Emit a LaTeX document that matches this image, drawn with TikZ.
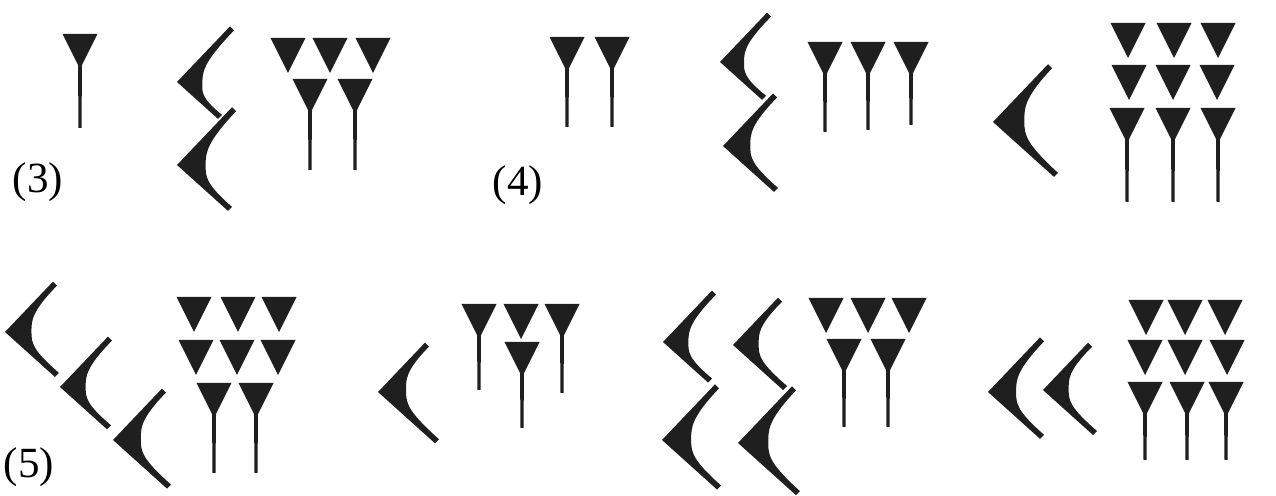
\documentclass[tikz,border=0pt]{standalone}
\usepackage{fontspec}
\setmainfont{Liberation Serif}
\tikzset{
  ink/.style={fill=black!88},
  lbl/.style={font=\fontsize{24.5}{29}\selectfont, inner sep=0pt},
  pics/head/.style={code={
    \fill[ink] (-17.5,0) -- (17.5,0) -- (0,35) -- cycle;
  }},
  pics/nail/.style={code={
    \fill[ink] (-17.5,0) -- (17.5,0) -- (0,35) -- cycle;
    \fill[ink] (-2,30) -- (2,30) -- (1.5,#1) -- (-1.5,#1) -- cycle;
  }},
  pics/hook/.style args={#1/#2}{code={
    \fill[ink] (#1,{-1.05*#1}) -- (0,0) -- (#2,{0.9*#2}) -- ({#2+4},{0.9*#2-4})
      .. controls ({0.55*#2},{0.36*#2}) and ({0.27*(#1+#2)},{0.22*#2}) .. ({0.27*(#1+#2)},0)
      .. controls ({0.27*(#1+#2)},{-0.24*#1}) and ({0.55*#1},{-0.42*#1}) .. ({#1+4},{-1.05*#1+4}) -- cycle;
  }}
}
\begin{document}
\begin{tikzpicture}[x=0.02cm,y=-0.02cm]
    \useasboundingbox (0,0) rectangle (1276,496);
    % (3)
    \pic at (80,34) {nail=94};
    \pic at (177,82) {hook=53/41};
    \pic at (177,165) {hook=55/51};
    \pic at (288,38) {head};
    \pic at (330,38) {head};
    \pic at (373,38) {head};
    \pic at (310,79) {nail=91};
    \pic at (355,79) {nail=91};
    \node[lbl] (lbl3) at (38,182) {(3)};
    % (4)
    \pic at (567,37) {nail=90};
    \pic at (612,37) {nail=90};
    \node[lbl] (lbl4) at (518,185) {(4)};
    \pic at (720,62) {hook=47/42};
    \pic at (723,146) {hook=50/51};
    \pic at (825,42) {nail=90};
    \pic at (868,42) {nail=88};
    \pic at (911,42) {nail=83};
    \pic at (993,122) {hook=55/61};
    \pic at (1128,23) {head};
    \pic at (1174,23) {head};
    \pic at (1218,23) {head};
    \pic at (1129,65) {head};
    \pic at (1173,65) {head};
    \pic at (1217,65) {head};
    \pic at (1127,108) {nail=94};
    \pic at (1173,108) {nail=94};
    \pic at (1218,108) {nail=94};
    % (5)
    \pic at (5,332) {hook=48/50};
    \pic at (60,387) {hook=48/47};
    \pic at (113,440) {hook=49/54};
    \node[lbl] (lbl5) at (29,467) {(5)};
    \pic at (194,297) {head};
    \pic at (238,297) {head};
    \pic at (279,297) {head};
    \pic at (196,340) {head};
    \pic at (237,340) {head};
    \pic at (278,340) {head};
    \pic at (214,383) {nail=90};
    \pic at (256,383) {nail=90};
    \pic at (378,392) {hook=47/57};
    \pic at (479,304) {nail=86};
    \pic at (521,304) {head};
    \pic at (562,304) {nail=89};
    \pic at (522,342) {nail=86};
    \pic at (663,342) {hook=49/45};
    \pic at (733,345) {hook=45/50};
    \pic at (662,440) {hook=53/55};
    \pic at (738,443) {hook=54/58};
    \pic at (826,298) {head};
    \pic at (868,298) {head};
    \pic at (909,298) {head};
    \pic at (844,339) {nail=88};
    \pic at (888,339) {nail=88};
    \pic at (988,392) {hook=52/52};
    \pic at (1043,390) {hook=45/50};
    \pic at (1146,300) {head};
    \pic at (1185,300) {head};
    \pic at (1225,300) {head};
    \pic at (1145,340) {head};
    \pic at (1185,340) {head};
    \pic at (1227,340) {head};
    \pic at (1145,382) {nail=78};
    \pic at (1187,382) {nail=78};
    \pic at (1226,382) {nail=78};
\end{tikzpicture}
\end{document}
